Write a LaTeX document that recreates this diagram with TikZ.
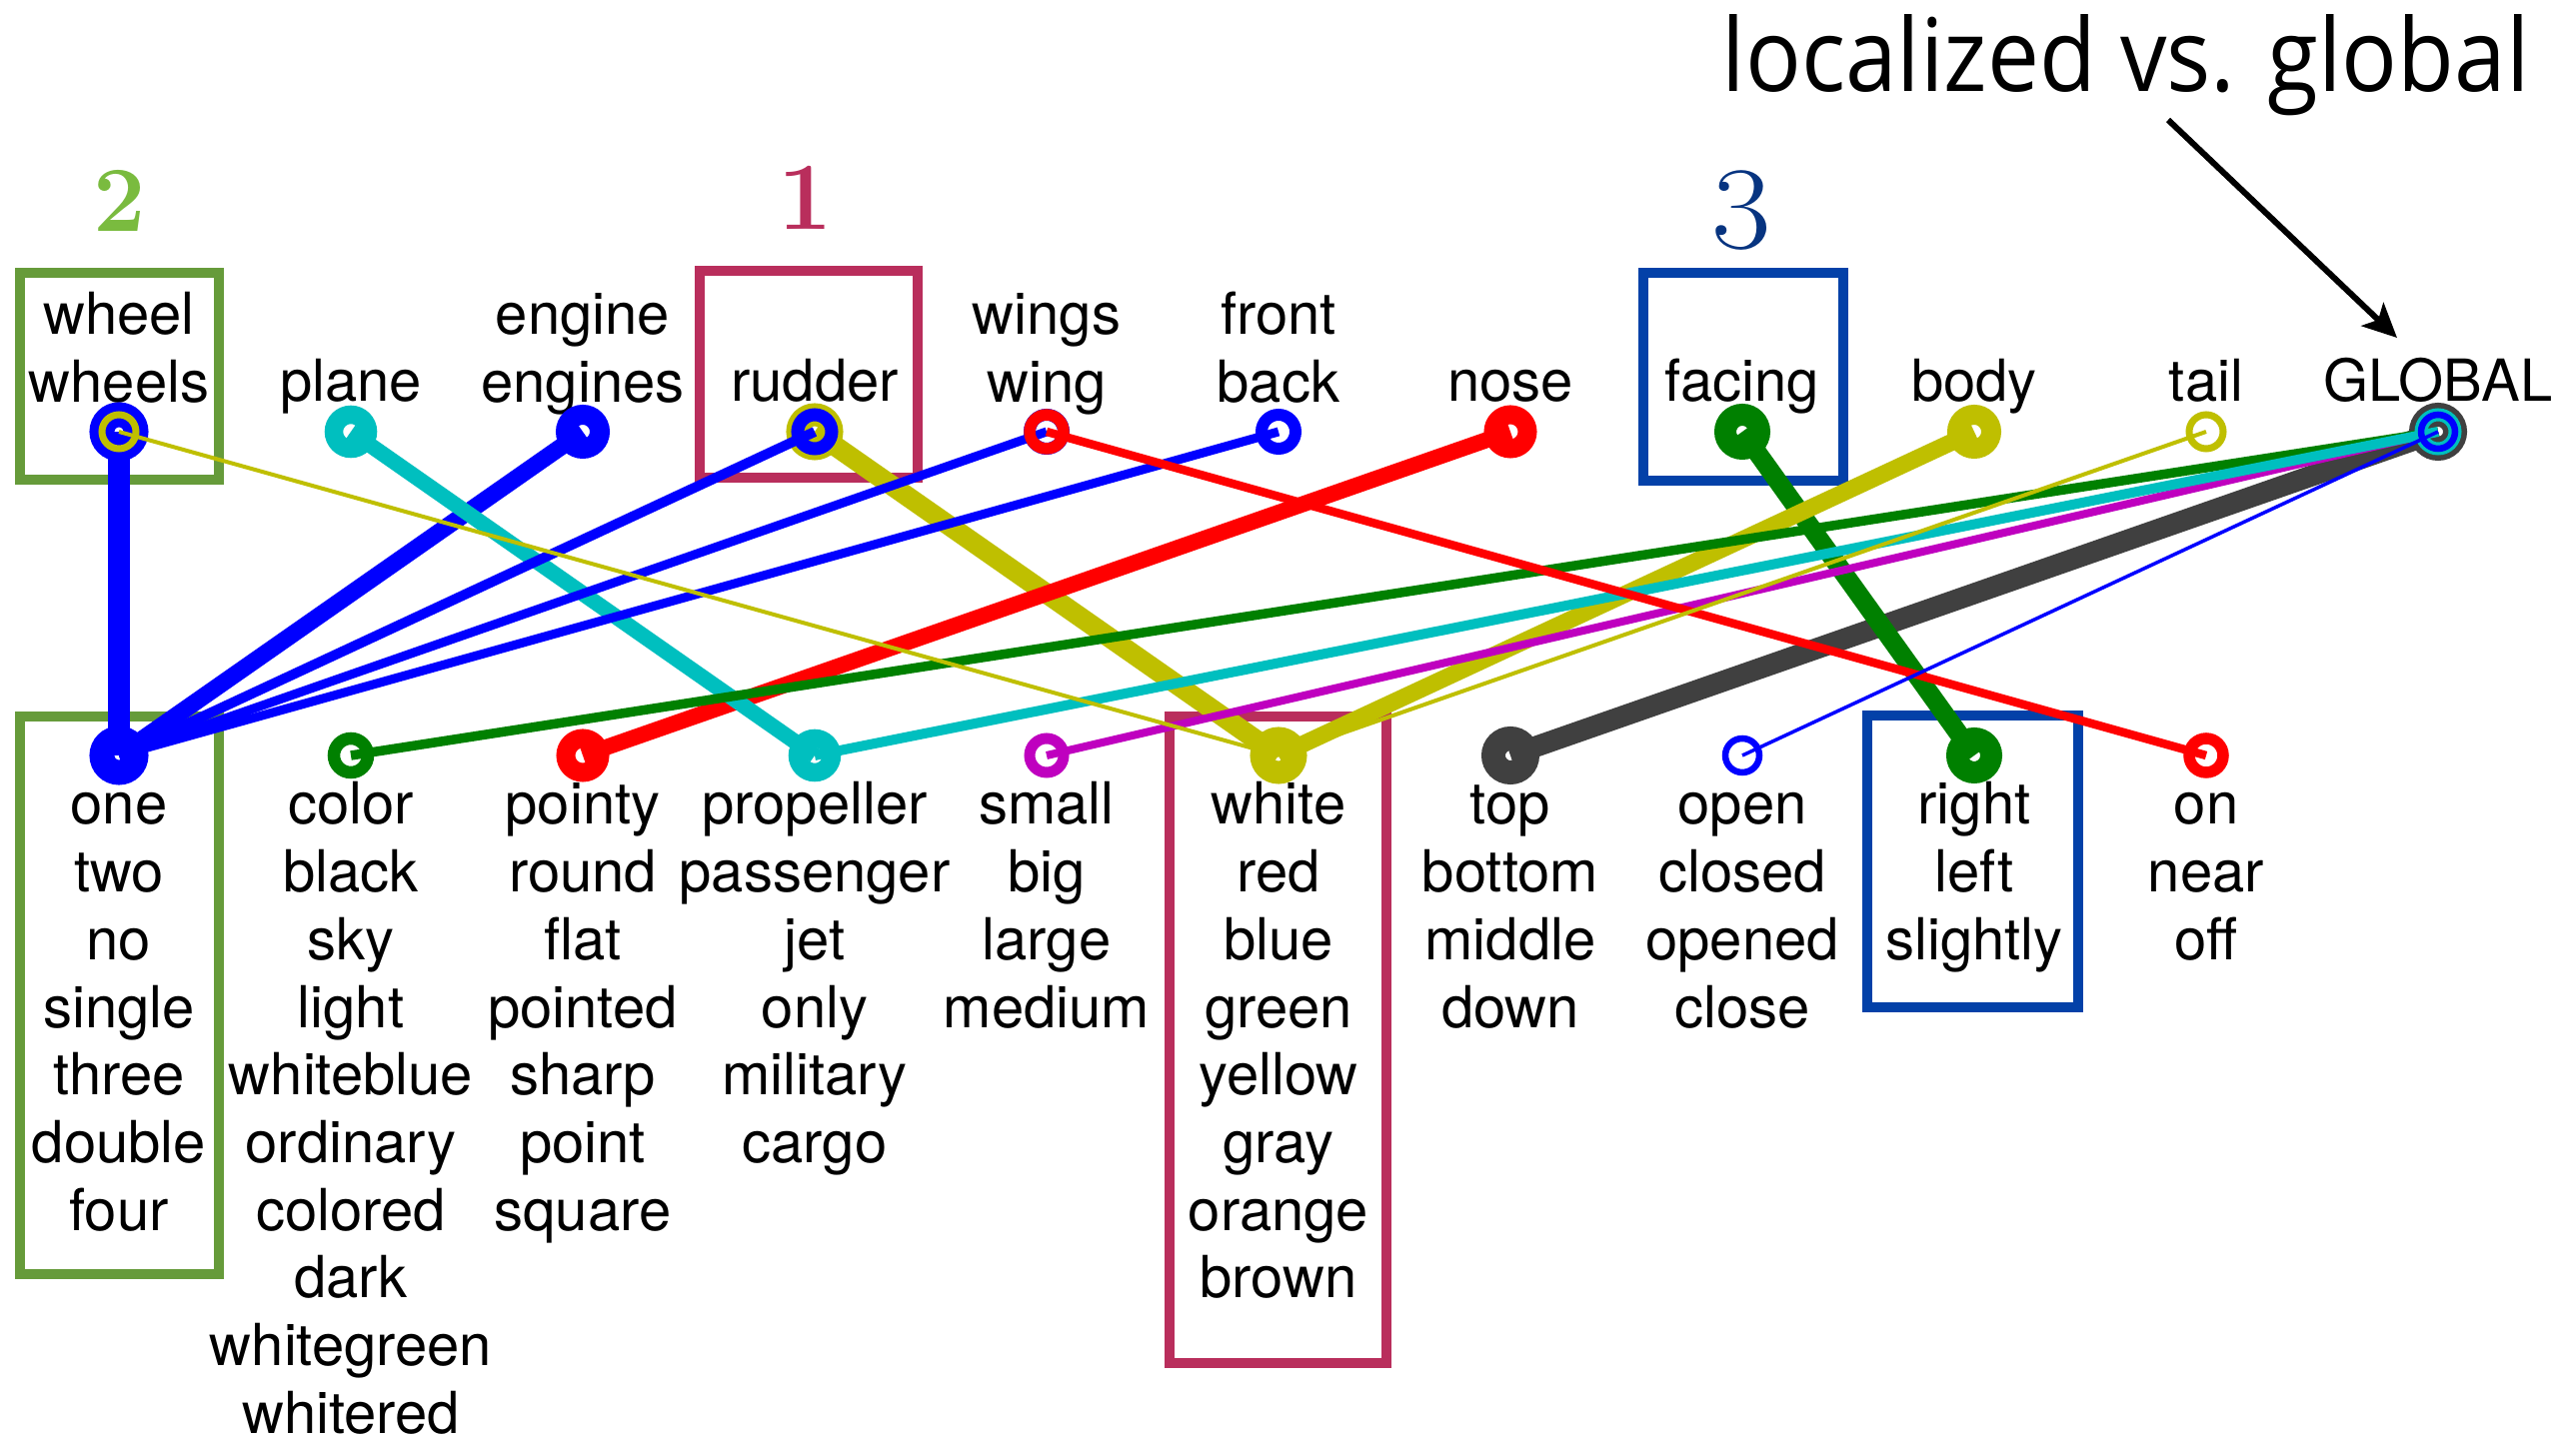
\documentclass[tikz,border=0pt]{standalone}
\usepackage{fontspec}
\usepackage{graphicx}
\newfontfamily\labfont{TeX Gyre Heros}
\newfontfamily\titlefont{Open Sans}
\usetikzlibrary{arrows.meta}
\definecolor{cB}{HTML}{0000FF}
\definecolor{cG}{HTML}{008000}
\definecolor{cR}{HTML}{FF0000}
\definecolor{cC}{HTML}{00BFBF}
\definecolor{cM}{HTML}{BF00BF}
\definecolor{cY}{HTML}{BFBF00}
\definecolor{cK}{HTML}{404040}
\definecolor{boxgreen}{RGB}{102,155,58}
\definecolor{boxred}{RGB}{185,46,92}
\definecolor{boxblue}{RGB}{3,65,168}
\definecolor{numgreen}{RGB}{122,187,63}
\definecolor{numred}{RGB}{185,46,92}
\definecolor{numblue}{RGB}{7,52,128}
\newcommand{\wl}[1]{{\labfont\fontsize{16.5}{19.26}\selectfont\renewcommand{\arraystretch}{1}\begin{tabular}[t]{@{}c@{}}#1\end{tabular}}}
\newcommand{\mylink}[4]{%
  \draw[#3, line width=#4*0.1mm] (#1) -- (#2);
  \draw[#3, line width=(#4+3)*0.1mm] (#1) circle[radius=1.7mm] (#2) circle[radius=1.7mm];}
\begin{document}
\begin{tikzpicture}[x=0.1mm,y=-0.1mm,
  lbl/.style={inner sep=0pt, anchor=base},
  boxline/.style={line width=1mm},
  num/.style={inner sep=0pt, anchor=base},
  pointer/.style={line width=0.6mm, -{Stealth[length=3.4mm,width=3.2mm,inset=0.8mm]}}]
\useasboundingbox[fill=white] (0,0) rectangle (2577,1443);
\foreach \i in {0,...,10} \coordinate (T\i) at ({119+232*\i},432);
\foreach \i in {0,...,9} \coordinate (B\i) at ({119+232*\i},756);

% top labels
\node[lbl] (lt0) at (119,335) {\wl{wheel\\wheels}};
\node[lbl] (lt1) at (351,402) {\wl{plane}};
\node[lbl] (lt2) at (583,335) {\wl{engine\\engines}};
\node[lbl] (lt3) at (815,402) {\wl{rudder}};
\node[lbl] (lt4) at (1047,335) {\wl{wings\\wing}};
\node[lbl] (lt5) at (1279,335) {\wl{front\\back}};
\node[lbl] (lt6) at (1511,402) {\wl{nose}};
\node[lbl] (lt7) at (1743,402) {\wl{facing}};
\node[lbl] (lt8) at (1975,402) {\wl{body}};
\node[lbl] (lt9) at (2207,402) {\wl{tail}};
\node[lbl] (lt10) at (2439,402) {\wl{GLOBAL}};

% bottom labels
\node[lbl] (lb0) at (119,825) {\wl{one\\two\\no\\single\\three\\double\\four}};
\node[lbl] (lb1) at (351,825) {\wl{color\\black\\sky\\light\\whiteblue\\ordinary\\colored\\dark\\whitegreen\\whitered}};
\node[lbl] (lb2) at (583,825) {\wl{pointy\\round\\flat\\pointed\\sharp\\point\\square}};
\node[lbl] (lb3) at (815,825) {\wl{propeller\\passenger\\jet\\only\\military\\cargo}};
\node[lbl] (lb4) at (1047,825) {\wl{small\\big\\large\\medium}};
\node[lbl] (lb5) at (1279,825) {\wl{white\\red\\blue\\green\\yellow\\gray\\orange\\brown}};
\node[lbl] (lb6) at (1511,825) {\wl{top\\bottom\\middle\\down}};
\node[lbl] (lb7) at (1743,825) {\wl{open\\closed\\opened\\close}};
\node[lbl] (lb8) at (1975,825) {\wl{right\\left\\slightly}};
\node[lbl] (lb9) at (2207,825) {\wl{on\\near\\off}};

% boxes
\draw[boxline, boxgreen] (20,273) rectangle (219,480);
\draw[boxline, boxgreen] (20,717) rectangle (219,1275);
\draw[boxline, boxred] (700,271) rectangle (918,478);
\draw[boxline, boxred] (1170,717) rectangle (1387,1364);
\draw[boxline, boxblue] (1644,273) rectangle (1844,481);
\draw[boxline, boxblue] (1868,716) rectangle (2079,1008);

% numbers
\node[num, text=numgreen] (n2) at (120,232) {\fontsize{26.5}{30}\selectfont\bfseries 2};
\node[num, text=numred] (n1) at (806,230) {\fontsize{27.4}{30}\selectfont\bfseries 1};
\node[num, text=numblue] (n3) at (1742,249) {\scalebox{1.1}[1]{\fontsize{33.5}{36}\selectfont 3}};

% title and pointer
\node[inner sep=0pt, anchor=base west] (title) at (1722,92) {\resizebox{80.8mm}{7.7mm}{\titlefont localized vs. global}};
\coordinate (arrS) at (2169,120);
\coordinate (arrE) at (2398,338);
\draw[pointer] (arrS) -- (arrE);

% connections, thickest first
\mylink{T0}{B0}{cB}{22}
\mylink{T10}{B6}{cK}{21}
\mylink{T3}{B5}{cY}{20}
\mylink{T7}{B8}{cG}{19}
\mylink{T2}{B0}{cB}{17}
\mylink{T8}{B5}{cY}{17}
\mylink{T6}{B2}{cR}{16}
\mylink{T1}{B3}{cC}{15.5}
\mylink{T3}{B0}{cB}{10}
\mylink{T10}{B4}{cM}{8}
\mylink{T10}{B1}{cG}{9.5}
\mylink{T10}{B3}{cC}{10}
\mylink{T4}{B0}{cB}{9}
\mylink{T5}{B0}{cB}{9}
\mylink{T4}{B9}{cR}{8.5}
\mylink{T0}{B5}{cY}{4}
\mylink{T9}{B5}{cY}{4}
\mylink{T10}{B7}{cB}{3.5}
\end{tikzpicture}
\end{document}
